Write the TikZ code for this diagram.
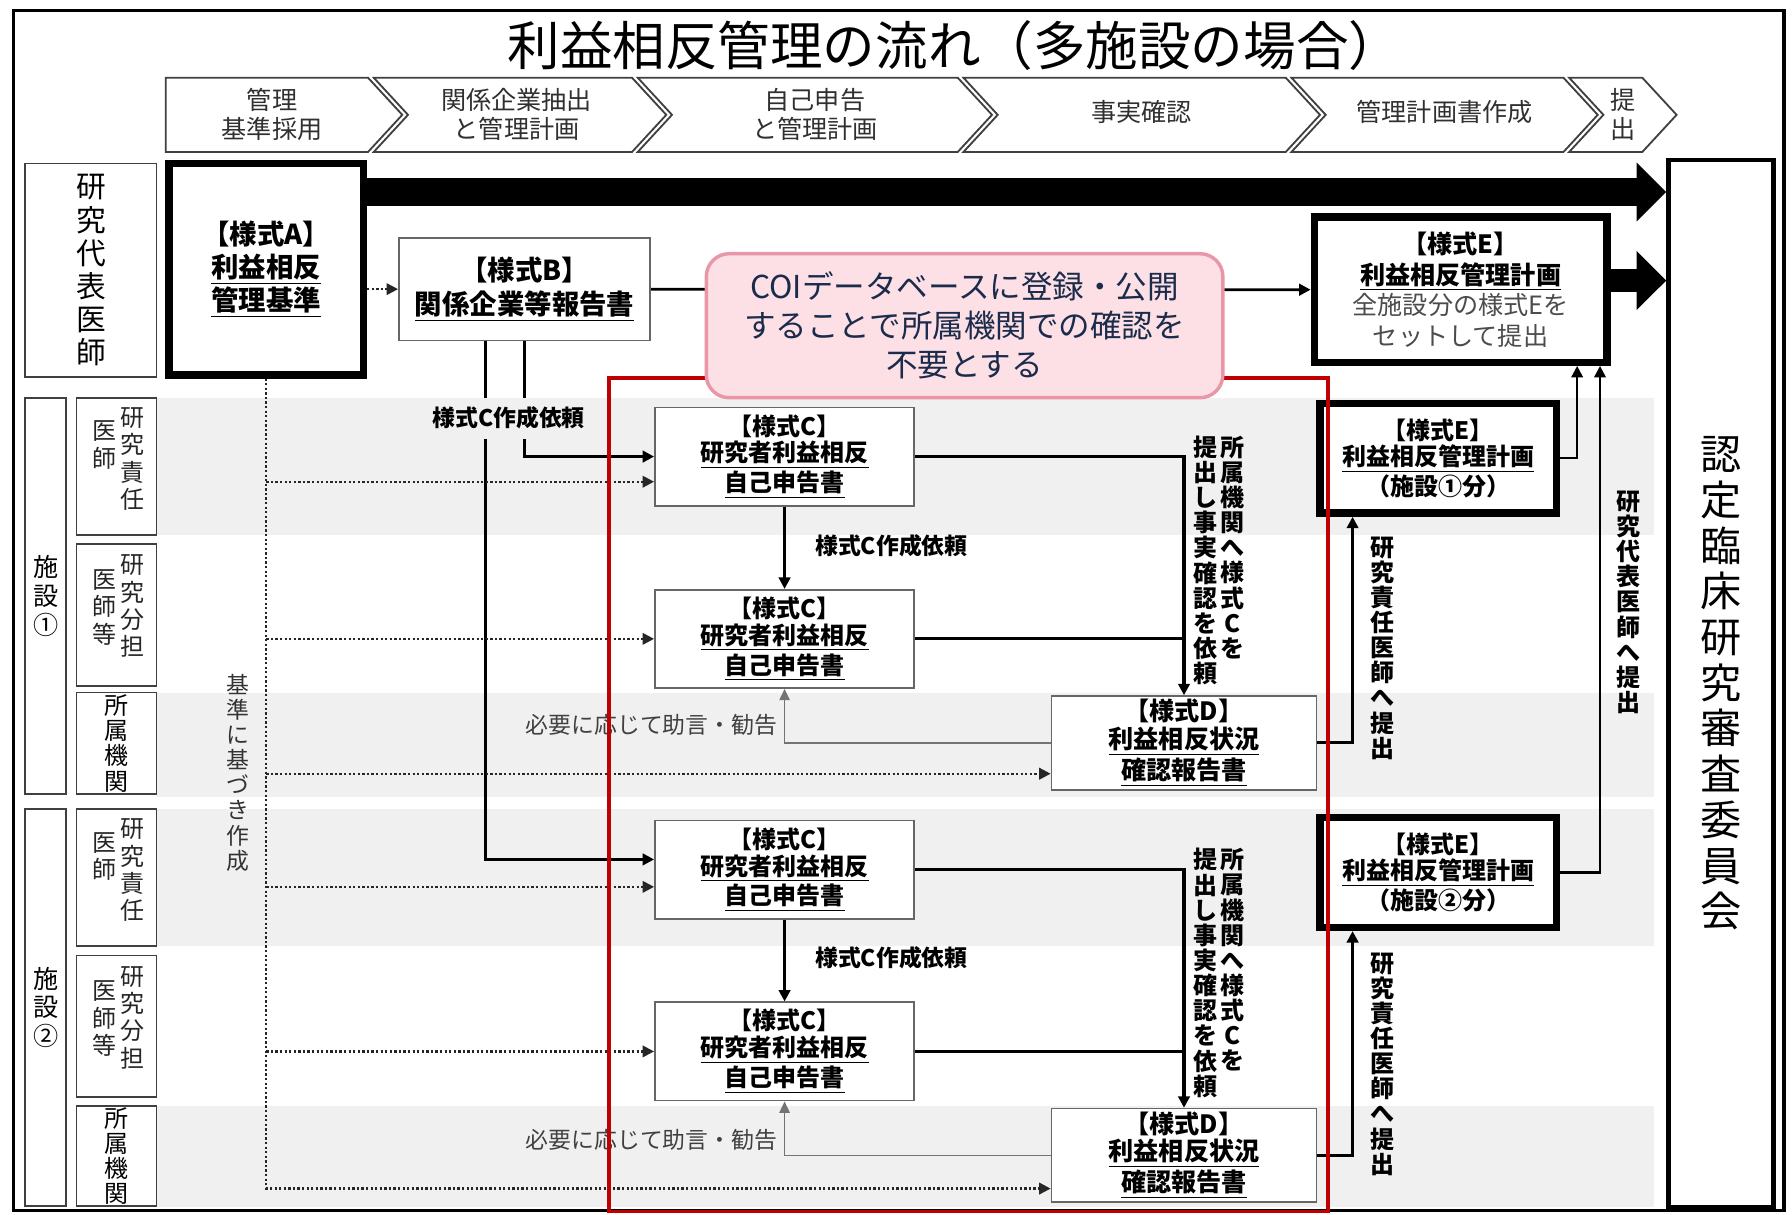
\documentclass[tikz,border=0pt]{standalone}
\usepackage{fontspec}
\setmainfont{Noto Sans CJK JP}
\usetikzlibrary{arrows.meta,calc}
\definecolor{band}{HTML}{F0F0F0}
\definecolor{redbox}{HTML}{C00000}
\definecolor{pinkfill}{HTML}{FCE0E5}
\definecolor{pinkdraw}{HTML}{E896A8}
\definecolor{navy}{HTML}{1B2B4B}
\definecolor{chevtext}{HTML}{303030}
\newcommand{\fs}[2]{\fontsize{#1}{#2}\selectfont}
\tikzset{
  lbl/.style={draw=black!75, line width=0.8pt, fill=white, inner sep=0pt, align=center},
  docbox/.style={draw=black!60, line width=0.7pt, fill=white, align=center, inner sep=0pt},
  thickbox/.style={draw=black, line width=3.2pt, fill=white, align=center, inner sep=0pt},
  conn/.style={line width=1.4pt},
  tip/.style={-{Triangle[length=5pt,width=5pt]}},
  dotarr/.style={line width=1pt, dash pattern=on 1pt off 1pt, black!85, -{Triangle[length=5pt,width=5pt]}},
  advice/.style={draw=black!55, line width=0.8pt, -{Triangle[length=5pt,width=4.5pt]}},
  bigarrow/.style={line width=12pt, -{Triangle[length=13pt,width=25pt]}},
  vlabel/.style={align=center, inner sep=0pt},
  chev/.style={draw=black!75, line width=0.8pt, fill=white},
  chevlabel/.style={font=\fs{11}{12.5}, text=chevtext, align=center},
  cbox/.style={docbox, minimum width=113.5pt, minimum height=43pt, font=\fs{10.5}{11.75}\bfseries},
  dbox/.style={docbox, minimum width=116pt, minimum height=41pt, font=\fs{11}{12}\bfseries},
  ebox/.style={thickbox, minimum width=103.5pt, minimum height=48pt, font=\fs{10.5}{11.5}\bfseries},
  reqlabel/.style={font=\fs{10}{12}\bfseries},
  advlabel/.style={font=\fs{10}{12}, text=black!75},
  vbold/.style={vlabel, font=\fs{10.5}{11}\bfseries},
  vsub/.style={vlabel, font=\fs{10.5}{12}, text=black!85}
}
\begin{document}
\begin{tikzpicture}[x=0.5pt,y=-0.5pt]
\useasboundingbox (0,0) rectangle (1568,1063);
\fill[white] (0,0) rectangle (1568,1063);
% bands
\fill[band] (137,348) rectangle (1447,468);
\fill[band] (137,606) rectangle (1447,697);
\fill[band] (137,708) rectangle (1447,828);
\fill[band] (137,968) rectangle (1447,1056);
% outer frame
\draw[line width=1.5pt] (12,9) rectangle (1561,1059);
% title
\node[font=\fs{23}{26}] (T) at (835,40) {利益相反管理の流れ（多施設の場合）};
% chevrons
\draw[chev] (145,68) -- (322,68) -- (352,100.5) -- (322,133) -- (145,133) -- cycle;
\draw[chev] (327,68) -- (553,68) -- (583,100.5) -- (553,133) -- (327,133) -- (357,100.5) -- cycle;
\draw[chev] (558,68) -- (838,68) -- (868,100.5) -- (838,133) -- (558,133) -- (588,100.5) -- cycle;
\draw[chev] (843,68) -- (1125,68) -- (1155,100.5) -- (1125,133) -- (843,133) -- (873,100.5) -- cycle;
\draw[chev] (1130,68) -- (1368,68) -- (1398,100.5) -- (1368,133) -- (1130,133) -- (1160,100.5) -- cycle;
\draw[chev] (1373,68) -- (1437,68) -- (1467,100.5) -- (1437,133) -- (1373,133) -- (1403,100.5) -- cycle;
\node[chevlabel] (s1) at (238,100) {管理\\基準採用};
\node[chevlabel] (s2) at (452,100) {関係企業抽出\\と管理計画};
\node[chevlabel] (s3) at (713,100) {自己申告\\と管理計画};
\node[chevlabel] (s4) at (999,98) {事実確認};
\node[chevlabel] (s5) at (1264,98) {管理計画書作成};
\node[chevlabel] (s6) at (1420,100) {提\\出};
% left labels
\node[lbl, minimum width=57.5pt, minimum height=93.5pt, font=\fs{13}{14.5}] (L0) at (79.5,236.5) {研\\究\\代\\表\\医\\師};
\node[lbl, minimum width=18pt, minimum height=173.5pt, font=\fs{11}{12.5}] (F1) at (40,521.5) {施\\設\\①};
\node[lbl, minimum width=35pt, minimum height=60pt] (F1a) at (102,408) {};
\node[lbl, minimum width=35pt, minimum height=62pt] (F1b) at (102,538) {};
\node[lbl, minimum width=35pt, minimum height=44.5pt, font=\fs{10.5}{11}] (F1c) at (102,650.5) {所\\属\\機\\関};
\node[lbl, minimum width=18pt, minimum height=173.5pt, font=\fs{11}{12.5}] (F2) at (40,881.5) {施\\設\\②};
\node[lbl, minimum width=35pt, minimum height=60pt] (F2a) at (102,768) {};
\node[lbl, minimum width=35pt, minimum height=62pt] (F2b) at (102,898) {};
\node[lbl, minimum width=35pt, minimum height=43.5pt, font=\fs{10.5}{11}] (F2c) at (102,1011.5) {所\\属\\機\\関};
\node[vsub, anchor=north] at (116,356) {研\\究\\責\\任};
\node[vsub, anchor=north] at (91,368) {医\\師};
\node[vsub, anchor=north] at (116,485) {研\\究\\分\\担};
\node[vsub, anchor=north] at (91,498) {医\\師\\等};
\node[vsub, anchor=north] at (116,716) {研\\究\\責\\任};
\node[vsub, anchor=north] at (91,728) {医\\師};
\node[vsub, anchor=north] at (116,845) {研\\究\\分\\担};
\node[vsub, anchor=north] at (91,858) {医\\師\\等};
% committee
\node[draw, line width=2pt, fill=white, inner sep=0pt, minimum width=46pt, minimum height=458pt, align=center, font=\fs{18}{20}] (R) at (1506,598) {認\\定\\臨\\床\\研\\究\\審\\査\\委\\員\\会};
% main boxes
\node[thickbox, minimum width=85pt, minimum height=92.5pt, font=\fs{12}{14.5}\bfseries] (A) at (233,235.5) {【様式A】\\\underline{利益相反}\\\underline{管理基準}};
\node[docbox, minimum width=110pt, minimum height=45pt, font=\fs{12}{15}\bfseries] (B) at (459,253) {【様式B】\\\underline{関係企業等報告書}};
\node[thickbox, minimum width=128pt, minimum height=63.5pt, font=\fs{11}{13.5}] (E) at (1278,253.5) {\textbf{【様式E】}\\\textbf{\underline{利益相反管理計画}}\\{\color{black!70}全施設分の様式Eを}\\{\color{black!70}セットして提出}};
\node[cbox] (C1) at (686.5,399.5) {【様式C】\\\underline{研究者利益相反}\\\underline{自己申告書}};
\node[cbox] (C2) at (686.5,559) {【様式C】\\\underline{研究者利益相反}\\\underline{自己申告書}};
\node[cbox] (C3) at (686.5,761) {【様式C】\\\underline{研究者利益相反}\\\underline{自己申告書}};
\node[cbox] (C4) at (686.5,920) {【様式C】\\\underline{研究者利益相反}\\\underline{自己申告書}};
\node[dbox] (D1) at (1036,650) {【様式D】\\\underline{利益相反状況}\\\underline{確認報告書}};
\node[dbox] (D2) at (1036,1011) {【様式D】\\\underline{利益相反状況}\\\underline{確認報告書}};
\node[ebox] (E1) at (1258.5,401) {【様式E】\\\underline{利益相反管理計画}\\（施設①分）};
\node[ebox] (E2) at (1258.5,763.5) {【様式E】\\\underline{利益相反管理計画}\\（施設②分）};
% thick arrows to committee
\coordinate (tA) at (318,168);
\draw[bigarrow] (tA) -- (tA -| R.west);
\coordinate (eE) at ([yshift=4pt]E.east);
\draw[bigarrow, line width=10pt] (eE) -- (eE -| R.west);
% A -> B, B -> E
\draw[dotarr] (A.east |- B.west) -- (B.west);
\draw[line width=1.2pt, tip] (B.east) -- (E.west);
% B -> C requests
\draw[conn, tip] (B.south) |- (C1.west);
\coordinate (bL) at ([xshift=-17pt]B.south);
\coordinate (c3s) at ([yshift=4.5pt]C3.west);
\draw[conn, tip] (bL) |- (c3s);
\node[reqlabel, fill=band, inner xsep=2pt, minimum height=18pt] (rq0) at (445,366) {様式C作成依頼};
% dotted from A
\coordinate (dC1) at ([yshift=-11pt]C1.west);
\coordinate (dC2) at (C2.west);
\coordinate (dD1) at ([yshift=-13.5pt]D1.west);
\coordinate (dC3) at ([yshift=-7.5pt]C3.west);
\coordinate (dC4) at (C4.west);
\coordinate (dD2) at ([yshift=-14.5pt]D2.west);
\draw[dotarr] (A.south) |- (dD2);
\draw[dotarr] (A.south |- dC1) -- (dC1);
\draw[dotarr] (A.south |- dC2) -- (dC2);
\draw[dotarr] (A.south |- dD1) -- (dD1);
\draw[dotarr] (A.south |- dC3) -- (dC3);
\draw[dotarr] (A.south |- dC4) -- (dC4);
\node[vlabel, font=\fs{10}{11}, text=black!80] (kb) at (208,676) {基\\準\\に\\基\\づ\\き\\作\\成};
% facility 1 flow
\draw[conn, tip] (C1.south) -- (C2.north);
\node[reqlabel] (rq1) at (780,478) {様式C作成依頼};
\draw[conn, tip] (C1.east) -| (D1.north);
\draw[conn] (C2.east) -- (C2.east -| D1.north);
\node[vbold, anchor=north] (sq1r) at (1078,381) {所\\属\\機\\関\\へ\\様\\式\\C\\を};
\node[vbold, anchor=north] (sq1l) at (1055,381) {提\\出\\し\\事\\実\\確\\認\\を\\依\\頼};
\draw[advice] (D1.west) -| (C2.south);
\node[advlabel] (ad1) at (570,634) {必要に応じて助言・勧告};
\coordinate (e1in) at ([xshift=-37.5pt]E1.south);
\draw[conn, tip] (D1.east) -| (e1in);
\node[vbold] (rs1) at (1210,567) {研\\究\\責\\任\\医\\師\\へ\\提\\出};
% facility 2 flow
\draw[conn, tip] (C3.south) -- (C4.north);
\node[reqlabel] (rq2) at (780,838) {様式C作成依頼};
\draw[conn, tip] (C3.east) -| (D2.north);
\draw[conn] (C4.east) -- (C4.east -| D2.north);
\node[vbold, anchor=north] (sq2r) at (1078,742) {所\\属\\機\\関\\へ\\様\\式\\C\\を};
\node[vbold, anchor=north] (sq2l) at (1055,742) {提\\出\\し\\事\\実\\確\\認\\を\\依\\頼};
\draw[advice] (D2.west) -| (C4.south);
\node[advlabel] (ad2) at (570,997) {必要に応じて助言・勧告};
\coordinate (e2in) at ([xshift=-37.5pt]E2.south);
\draw[conn, tip] (D2.east) -| (e2in);
\node[vbold] (rs2) at (1210,931) {研\\究\\責\\任\\医\\師\\へ\\提\\出};
% E1/E2 -> E
\coordinate (ea) at ([xshift=51pt]E.south);
\coordinate (eb) at ([xshift=61pt]E.south);
\draw[line width=1pt, tip] (E1.east) -| (ea);
\draw[line width=1pt, tip] (E2.east) -| (eb);
\node[vbold] (rp) at (1425,527) {研\\究\\代\\表\\医\\師\\へ\\提\\出};
% red group frame
\draw[redbox, line width=1.6pt] (533,331) rectangle (1162,1060);
% callout
\node[draw=pinkdraw, line width=1.5pt, fill=pinkfill, rounded corners=10pt, minimum width=226pt, minimum height=63pt, align=center, text=navy, font=\fs{13.8}{17}] (CO) at (844,285) {COIデータベースに登録・公開\\することで所属機関での確認を\\不要とする};
\end{tikzpicture}
\end{document}
